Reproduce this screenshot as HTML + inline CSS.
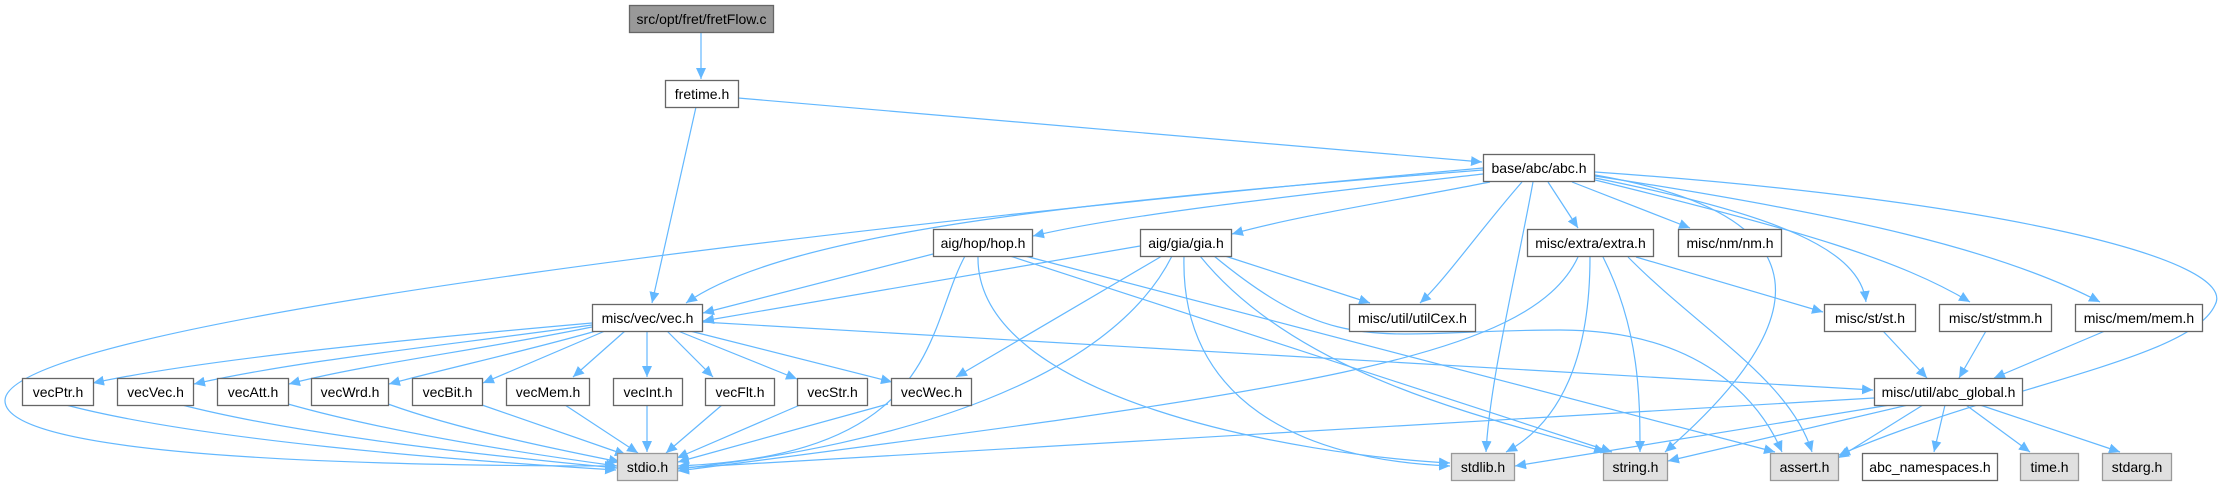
<!DOCTYPE html>
<html><head><meta charset="utf-8"><style>
html,body{margin:0;padding:0;background:#fff;}
svg{display:block;}
text{font-family:"Liberation Sans",Arial,sans-serif;font-size:14px;fill:#000;}
</style></head><body>
<svg width="2224" height="485" viewBox="0 0 2224 485" xmlns="http://www.w3.org/2000/svg">
<defs>
<marker id="a" markerUnits="userSpaceOnUse" markerWidth="12" markerHeight="10" refX="11" refY="5" orient="auto">
<path d="M0,0 L11,5 L0,10 Z" fill="#63b8ff"/></marker>
</defs>
<g fill="none" stroke="#63b8ff" stroke-width="1.2" marker-end="url(#a)">
<path d="M701,32 L701,79"/>
<path d="M696,107 L652,303"/>
<path d="M738,98 L1482,162"/>
<!-- abc.h edges -->
<path d="M1483,168 C900,220 10,320 5,400 C2,460 400,466 616,466"/>
<path d="M1483,170 C1100,200 790,230 686,303"/>
<path d="M1483,174 C1300,195 1120,215 1033,236"/>
<path d="M1490,182 C1400,200 1300,215 1232,234"/>
<path d="M1522,182 C1480,230 1445,280 1420,303"/>
<path d="M1533,182 C1515,280 1490,380 1486,452"/>
<path d="M1548,182 L1578,228"/>
<path d="M1572,182 L1690,228"/>
<path d="M1595,175 C1800,210 1840,300 1665,452"/>
<path d="M1595,178 C1780,215 1860,250 1866,302"/>
<path d="M1595,180 C1800,230 1900,260 1970,302"/>
<path d="M1595,176 C1850,215 2000,250 2100,302"/>
<path d="M1595,172 C2000,200 2240,260 2215,305 C2190,360 2000,385 1839,455"/>
<!-- hop -->
<path d="M933,254 L703,313"/>
<path d="M965,256 C925,330 940,455 678,466"/>
<path d="M978,256 C975,400 1300,455 1450,463"/>
<path d="M1010,256 L1612,452"/>
<path d="M1025,256 L1775,452"/>
<!-- gia -->
<path d="M1140,246 L703,321"/>
<path d="M1162,256 L956,377"/>
<path d="M1172,256 C1110,380 900,445 678,469"/>
<path d="M1184,256 C1180,400 1300,460 1450,466"/>
<path d="M1200,256 C1300,380 1500,420 1605,452"/>
<path d="M1214,256 C1340,360 1380,330 1560,330 C1700,330 1760,400 1782,452"/>
<path d="M1225,256 L1370,303"/>
<!-- extra -->
<path d="M1578,257 C1530,360 1300,390 678,471"/>
<path d="M1590,257 C1590,350 1565,420 1506,452"/>
<path d="M1603,257 C1640,330 1640,400 1640,452"/>
<path d="M1628,257 C1700,330 1790,380 1812,452"/>
<path d="M1636,257 L1823,312"/>
<!-- vec -->
<path d="M592,323 C400,340 200,360 93,383"/>
<path d="M592,325 C450,345 300,360 194,384"/>
<path d="M592,327 C480,350 360,365 289,384"/>
<path d="M596,331 C530,350 440,370 389,384"/>
<path d="M605,331 L483,383"/>
<path d="M625,331 L573,377"/>
<path d="M647,331 L647,377"/>
<path d="M667,331 L713,377"/>
<path d="M678,331 L797,379"/>
<path d="M690,331 L892,382"/>
<path d="M702,322 L1873,390"/>
<!-- vec* -> stdio -->
<path d="M66,405 C200,440 450,460 616,470"/>
<path d="M182,405 C300,435 480,455 617,468"/>
<path d="M288,404 C380,430 500,450 617,466"/>
<path d="M388,404 C460,430 560,450 620,462"/>
<path d="M482,405 L626,455"/>
<path d="M565,405 L638,453"/>
<path d="M647,405 L647,452"/>
<path d="M722,405 L666,453"/>
<path d="M800,405 L677,458"/>
<path d="M888,404 L678,462"/>
<!-- st etc -> abc_global -->
<path d="M1883,331 L1927,378"/>
<path d="M1986,331 L1959,378"/>
<path d="M2105,331 L1994,378"/>
<!-- abc_global -->
<path d="M1874,398 C1500,420 900,455 678,468"/>
<path d="M1890,405 L1515,466"/>
<path d="M1908,405 L1668,461"/>
<path d="M1923,405 L1838,458"/>
<path d="M1945,405 L1934,452"/>
<path d="M1966,405 L2030,452"/>
<path d="M1980,405 L2120,452"/>
</g>
<g stroke-width="1.3">
<rect x="629.5" y="5.5" width="144" height="27" fill="#999" stroke="#666"/>
<rect x="665.5" y="80.5" width="73" height="27" fill="#fff" stroke="#666"/>
<rect x="1483.5" y="154.5" width="111" height="27" fill="#fff" stroke="#666"/>
<rect x="933.5" y="229.5" width="99" height="27" fill="#fff" stroke="#666"/>
<rect x="1140.5" y="229.5" width="91" height="27" fill="#fff" stroke="#666"/>
<rect x="1527.5" y="229.5" width="126" height="27" fill="#fff" stroke="#666"/>
<rect x="1678.5" y="229.5" width="103" height="27" fill="#fff" stroke="#666"/>
<rect x="592.5" y="304.5" width="110" height="27" fill="#fff" stroke="#666"/>
<rect x="1349.5" y="304.5" width="126" height="27" fill="#fff" stroke="#666"/>
<rect x="1824.5" y="304.5" width="91" height="27" fill="#fff" stroke="#666"/>
<rect x="1939.5" y="304.5" width="112" height="27" fill="#fff" stroke="#666"/>
<rect x="2075.5" y="304.5" width="127" height="27" fill="#fff" stroke="#666"/>
<rect x="22.5" y="378.5" width="71" height="27" fill="#fff" stroke="#666"/>
<rect x="117.5" y="378.5" width="76" height="27" fill="#fff" stroke="#666"/>
<rect x="217.5" y="378.5" width="71" height="27" fill="#fff" stroke="#666"/>
<rect x="311.5" y="378.5" width="77" height="27" fill="#fff" stroke="#666"/>
<rect x="412.5" y="378.5" width="70" height="27" fill="#fff" stroke="#666"/>
<rect x="506.5" y="378.5" width="83" height="27" fill="#fff" stroke="#666"/>
<rect x="613.5" y="378.5" width="69" height="27" fill="#fff" stroke="#666"/>
<rect x="705.5" y="378.5" width="69" height="27" fill="#fff" stroke="#666"/>
<rect x="797.5" y="378.5" width="70" height="27" fill="#fff" stroke="#666"/>
<rect x="891.5" y="378.5" width="80" height="27" fill="#fff" stroke="#666"/>
<rect x="1874.5" y="378.5" width="148" height="27" fill="#fff" stroke="#666"/>
<rect x="617.5" y="453.5" width="60" height="27" fill="#e0e0e0" stroke="#999"/>
<rect x="1451.5" y="453.5" width="63" height="27" fill="#e0e0e0" stroke="#999"/>
<rect x="1603.5" y="453.5" width="64" height="27" fill="#e0e0e0" stroke="#999"/>
<rect x="1770.5" y="453.5" width="68" height="27" fill="#e0e0e0" stroke="#999"/>
<rect x="1862.5" y="453.5" width="135" height="27" fill="#fff" stroke="#666"/>
<rect x="2020.5" y="453.5" width="58" height="27" fill="#e0e0e0" stroke="#999"/>
<rect x="2102.5" y="453.5" width="69" height="27" fill="#e0e0e0" stroke="#999"/>
</g>
<g text-anchor="middle">
<text x="701.5" y="24">src/opt/fret/fretFlow.c</text>
<text x="702" y="99">fretime.h</text>
<text x="1539" y="173">base/abc/abc.h</text>
<text x="983" y="248">aig/hop/hop.h</text>
<text x="1186" y="248">aig/gia/gia.h</text>
<text x="1590.5" y="248">misc/extra/extra.h</text>
<text x="1730" y="248">misc/nm/nm.h</text>
<text x="647.5" y="323">misc/vec/vec.h</text>
<text x="1412.5" y="323">misc/util/utilCex.h</text>
<text x="1870" y="323">misc/st/st.h</text>
<text x="1995.5" y="323">misc/st/stmm.h</text>
<text x="2139" y="323">misc/mem/mem.h</text>
<text x="58" y="397">vecPtr.h</text>
<text x="155.5" y="397">vecVec.h</text>
<text x="253" y="397">vecAtt.h</text>
<text x="350" y="397">vecWrd.h</text>
<text x="447.5" y="397">vecBit.h</text>
<text x="548" y="397">vecMem.h</text>
<text x="648" y="397">vecInt.h</text>
<text x="740" y="397">vecFlt.h</text>
<text x="832.5" y="397">vecStr.h</text>
<text x="931.5" y="397">vecWec.h</text>
<text x="1948.5" y="397">misc/util/abc_global.h</text>
<text x="647.5" y="472">stdio.h</text>
<text x="1483" y="472">stdlib.h</text>
<text x="1635.5" y="472">string.h</text>
<text x="1804.5" y="472">assert.h</text>
<text x="1930" y="472">abc_namespaces.h</text>
<text x="2049.5" y="472">time.h</text>
<text x="2137" y="472">stdarg.h</text>
</g>
</svg>
</body></html>
